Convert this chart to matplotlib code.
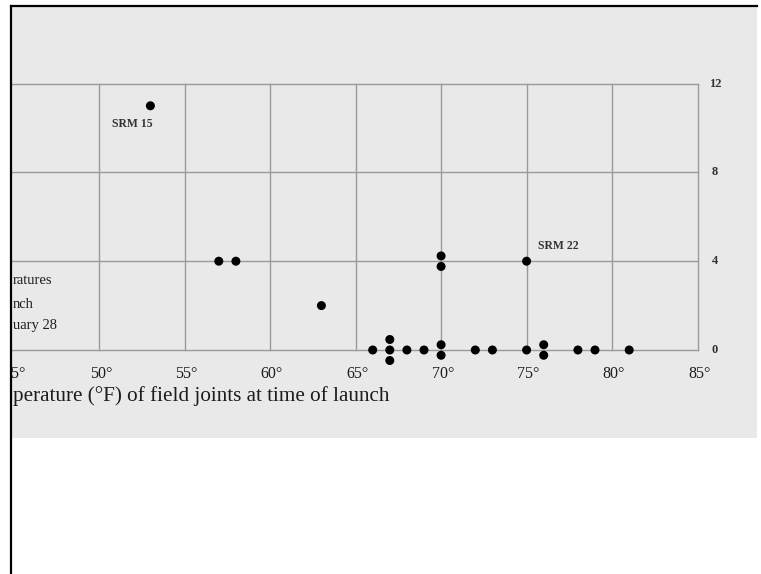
import numpy as np
import matplotlib
matplotlib.use("Agg")
import matplotlib.pyplot as plt
from matplotlib.lines import Line2D

# launch temperature (deg F) and O-ring damage index, one entry per launch
temps = [53, 57, 58, 63, 66, 67, 67, 67, 68, 69, 70, 70, 70, 70,
         72, 73, 75, 75, 76, 76, 78, 79, 81]
damage = [11, 4, 4, 2, 0, 0, 0, 0, 0, 0, 4, 4, 0, 0,
          0, 0, 4, 0, 0, 0, 0, 0, 0]

x_ticks = [45, 50, 55, 60, 65, 70, 75, 80, 85]
y_ticks = [0, 4, 8, 12]
callouts = [("SRM 15", 53, 11), ("SRM 22", 75, 4)]
# the page is cropped on the left, only the ends of these lines remain
note_lines = ["ratures", "nch", "uary 28"]
x_title = "perature (°F) of field joints at time of launch"

W, H = 761, 574
fig = plt.figure(figsize=(W / 100, H / 100), dpi=100)
fig.patch.set_facecolor("white")

# the scanned page sits in a box from (11, 6) to (757, 438) pixels
left, top, right, bottom = 11, 6, 757, 438
ax = fig.add_axes([left / W, 1 - bottom / H, (right - left) / W, (bottom - top) / H])
ax.set_facecolor("#e9e9e9")
for s in ax.spines.values():
    s.set_visible(False)
ax.set_xticks([])
ax.set_yticks([])

# pixel geometry of the scale: 45 deg at x=13.6, 17.1 px per degree; 0 at y=350, 22.2 px per unit
px_deg, x45 = 17.1, 13.6
px_unit, y0 = 22.2, 350
ax.set_xlim(45 + (left - x45) / px_deg, 45 + (right - x45) / px_deg)
ax.set_ylim((y0 - bottom) / px_unit, (y0 - top) / px_unit)


def px_x(p):
    return 45 + (p - x45) / px_deg


def px_y(p):
    return (y0 - p) / px_unit


font = "Liberation Serif"
grid_c = "#9a9a9a"
ink = "#1c1c1c"

# grid
xl = ax.get_xlim()[0]
for yv in y_ticks:
    ax.plot([xl, x_ticks[-1]], [yv, yv], color=grid_c, lw=1.0, zorder=1)
for xv in x_ticks[1:]:
    ax.plot([xv, xv], [y_ticks[0], y_ticks[-1]], color=grid_c, lw=1.0, zorder=1)

# stack launches that share a temperature and damage value
gap = 10.5 / px_unit
pts = {}
for t, d in zip(temps, damage):
    pts.setdefault((t, d), 0)
    pts[(t, d)] += 1
xs, ys = [], []
for (t, d), n in pts.items():
    for i in range(n):
        xs.append(t)
        ys.append(d + (i - (n - 1) / 2) * gap)
ax.scatter(xs, ys, s=42, color="black", edgecolors="none", zorder=3)

# callouts
for label, t, d in callouts:
    if label == "SRM 15":
        ax.annotate(label, (t, d), xytext=(-13, -13), textcoords="offset points",
                    ha="center", va="center", fontsize=8.5, family=font,
                    fontweight="bold", color="#333333")
    else:
        ax.annotate(label, (t, d), xytext=(8, 11), textcoords="offset points",
                    ha="left", va="center", fontsize=8.5, family=font,
                    fontweight="bold", color="#333333")

# tick labels
for xv in x_ticks:
    ax.text(xv + 0.1, px_y(374), f"{xv}°", ha="center", va="center",
            fontsize=11.5, family=font, color=ink, clip_on=True)
for yv in y_ticks:
    ax.text(px_x(715), yv, f"{yv}", ha="center", va="center",
            fontsize=9, family=font, fontweight="bold", color="#333333")

ax.text(px_x(13), px_y(396), x_title, ha="left", va="center",
        fontsize=15.2, family=font, color=ink)

# forecast note
for line, ye in zip(note_lines, [281, 304, 326]):
    ax.text(px_x(13), px_y(ye), line, ha="left", va="center",
            fontsize=10.5, family=font, color=ink)

# black frame lines on the left and top
fig.add_artist(Line2D([left / W, left / W], [0, 1 - top / H], color="black", lw=1.6,
                      transform=fig.transFigure))
fig.add_artist(Line2D([left / W, right / W], [1 - top / H, 1 - top / H], color="black",
                      lw=1.6, transform=fig.transFigure))

fig.savefig("out.png", dpi=100)
